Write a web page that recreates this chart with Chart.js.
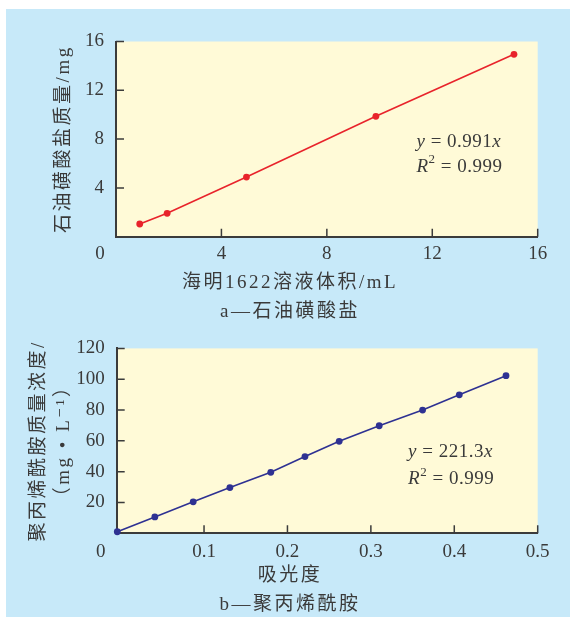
<!DOCTYPE html>
<html>
<head>
<meta charset="utf-8">
<script src="https://cdn.jsdelivr.net/npm/chart.js@4.4.1/dist/chart.umd.min.js"></script>
<style>
  html, body { margin: 0; padding: 0; background: #fff; overflow: hidden; }
  #sheet { position: absolute; left: 6px; top: 9px; width: 564px; height: 608px; background: #c7e9f9; overflow: hidden; }
  #chartA { position: absolute; left: 0; top: 0; }
  #chartB { position: absolute; left: 0; top: 316px; }
</style>
</head>
<body>
<div id="sheet">
  <canvas id="chartA" width="564" height="318"></canvas>
  <canvas id="chartB" width="564" height="294"></canvas>
</div>
<script>
// chart a: petroleum sulfonate vs. Hyamine 1622 volume
var volumeA = [0.90, 1.94, 4.95, 9.86, 15.10];
var massA = [1.04, 1.92, 4.89, 9.87, 14.95];
var xTicksA = [4, 8, 12, 16];
var yTicksA = [4, 8, 12, 16];

// chart b: polyacrylamide vs. absorbance
var absorbB = [-0.004, 0.041, 0.087, 0.131, 0.180, 0.221, 0.262, 0.310, 0.362, 0.406, 0.462];
var concB = [1.0, 10.6, 20.4, 29.7, 39.6, 49.8, 59.7, 69.8, 80.0, 89.9, 102.3];
var xTicksB = [0.1, 0.2, 0.3, 0.4, 0.5];
var yTicksB = [20, 40, 60, 80, 100, 120];

var textColor = '#3a3a3a';
var axisColor = '#3b3b3b';
var plotColor = '#fffad7';
var serif = '"Liberation Serif", "DejaVu Serif", "Noto Sans CJK SC", serif';

function drawFormula(ctx, x, y, parts) {
    for (var i = 0; i < parts.length; i++) {
        var p = parts[i];
        ctx.font = (p.it ? 'italic ' : '') + (p.sup ? '13px ' : '19px ') + serif;
        ctx.fillText(p.t, x, p.sup ? y - 7 : y);
        x += ctx.measureText(p.t).width;
    }
}

// yellow plot area, inward ticks, corner "0" and the fit formula
var paperPlugin = {
    id: 'paper',
    beforeDraw: function (chart) {
        var a = chart.chartArea;
        var ctx = chart.ctx;
        ctx.save();
        ctx.fillStyle = plotColor;
        ctx.fillRect(a.left, a.top, a.right - a.left, a.bottom - a.top);
        ctx.restore();
        // titles are drawn before the datasets, spread them a little
        ctx.letterSpacing = '2.5px';
    },
    beforeDatasetsDraw: function (chart) {
        var a = chart.chartArea;
        var ctx = chart.ctx;
        var xs = chart.scales.x, ys = chart.scales.y;
        ctx.letterSpacing = '0px';
        ctx.save();
        ctx.strokeStyle = axisColor;
        ctx.lineWidth = 1.5;
        ctx.beginPath();
        xs.ticks.forEach(function (t) {
            var px = xs.getPixelForValue(t.value);
            ctx.moveTo(px, a.bottom);
            ctx.lineTo(px, a.bottom - 8);
        });
        ys.ticks.forEach(function (t) {
            var py = ys.getPixelForValue(t.value);
            ctx.moveTo(a.left, py);
            ctx.lineTo(a.left + 8, py);
        });
        ctx.stroke();
        ctx.restore();
    },
    afterDraw: function (chart, args, opts) {
        var a = chart.chartArea;
        var ctx = chart.ctx;
        var xs = chart.scales.x, ys = chart.scales.y;
        ctx.save();
        ctx.fillStyle = textColor;
        ctx.textBaseline = 'middle';
        ctx.textAlign = 'center';
        ctx.font = '19px ' + serif;
        ctx.fillText('0', a.left - 16, a.bottom + opts.zeroDy);
        ctx.textAlign = 'left';
        ctx.letterSpacing = '0.5px';
        var fx = xs.getPixelForValue(opts.noteX);
        var fy = ys.getPixelForValue(opts.noteY);
        drawFormula(ctx, fx, fy, [{ t: 'y', it: true }, { t: ' = ' + opts.slope }, { t: 'x', it: true }]);
        drawFormula(ctx, fx, fy + opts.noteGap, [{ t: 'R', it: true }, { t: '2', sup: true }, { t: ' = ' + opts.r2 }]);
        ctx.restore();
    }
};

function makeChart(id, xs, ys, color, s) {
    var points = [];
    for (var i = 0; i < xs.length; i++) {
        points.push({ x: xs[i], y: ys[i] });
    }
    var ctx = document.getElementById(id).getContext('2d');
    return new Chart(ctx, {
        type: 'scatter',
        data: {
            datasets: [{
                data: points,
                showLine: true,
                borderColor: color,
                backgroundColor: color,
                borderWidth: 1.6,
                pointRadius: 3.4,
                pointBorderWidth: 0,
                clip: false
            }]
        },
        options: {
            responsive: false,
            animation: false,
            events: [],
            layout: { padding: s.padding },
            plugins: {
                legend: { display: false },
                tooltip: { enabled: false },
                title: {
                    display: true,
                    position: 'bottom',
                    text: s.bottomText,
                    color: textColor,
                    font: { family: serif, size: 19, weight: 'normal', lineHeight: s.bottomLine / 19 },
                    padding: 0
                },
                paper: s.paper
            },
            scales: {
                x: {
                    type: 'linear',
                    min: s.xMin,
                    max: s.xMax,
                    afterBuildTicks: function (scale) {
                        scale.ticks = s.xTicks.map(function (v) { return { value: v }; });
                    },
                    afterFit: function (scale) { scale.height = s.xHeight; },
                    grid: { display: true, drawOnChartArea: false, drawTicks: false },
                    border: { display: true, color: axisColor, width: 2 },
                    ticks: { z: 1, color: textColor, font: { family: serif, size: 19 }, padding: s.xPad, maxRotation: 0 }
                },
                y: {
                    type: 'linear',
                    min: 0,
                    max: s.yMax,
                    afterBuildTicks: function (scale) {
                        scale.ticks = s.yTicks.map(function (v) { return { value: v }; });
                    },
                    afterFit: function (scale) { scale.width = s.yWidth; },
                    grid: { display: true, drawOnChartArea: false, drawTicks: false },
                    border: { display: true, color: axisColor, width: 2 },
                    ticks: { z: 1, color: textColor, font: { family: serif, size: 19 }, padding: 12 },
                    title: {
                        display: true,
                        text: s.yTitle,
                        color: textColor,
                        font: { family: serif, size: 19, lineHeight: 25 / 19 },
                        padding: { top: s.yTitlePad, bottom: 0 }
                    }
                }
            }
        },
        plugins: [paperPlugin]
    });
}

// left padding balances the right one so the captions sit mid-sheet
var chartA = makeChart('chartA', volumeA, massA, '#e8232b', {
    padding: { left: 36.3, right: 32.3, top: 32.5, bottom: 0.5 },
    bottomText: ['海明1622溶液体积/mL', 'a—石油磺酸盐'],
    bottomLine: 29,
    xMin: 0, xMax: 16, xTicks: xTicksA, xHeight: 31.8, xPad: 6.2,
    yMax: 16, yTicks: yTicksA, yWidth: 73.7,
    yTitle: '石油磺酸盐质量/mg', yTitlePad: 9.7,
    paper: { zeroDy: 17.6, noteX: 11.4, noteY: 7.79, noteGap: 25, slope: '0.991', r2: '0.999' }
});

var chartB = makeChart('chartB', absorbB, concB, '#2e3192', {
    padding: { left: 36.3, right: 32.3, top: 13.5, bottom: 0 },
    bottomText: ['吸光度', 'b—聚丙烯酰胺'],
    bottomLine: 28.5,
    xMin: -0.0047, xMax: 0.5, xTicks: xTicksB, xHeight: 28.7, xPad: 7.6,
    yMax: 120, yTicks: yTicksB, yWidth: 74.4,
    yTitle: ['聚丙烯酰胺质量浓度/', '（mg • L⁻¹）'], yTitlePad: -15.8,
    paper: { zeroDy: 19, noteX: 0.3446, noteY: 52.5, noteGap: 26.7, slope: '221.3', r2: '0.999' }
});
</script>
</body>
</html>
